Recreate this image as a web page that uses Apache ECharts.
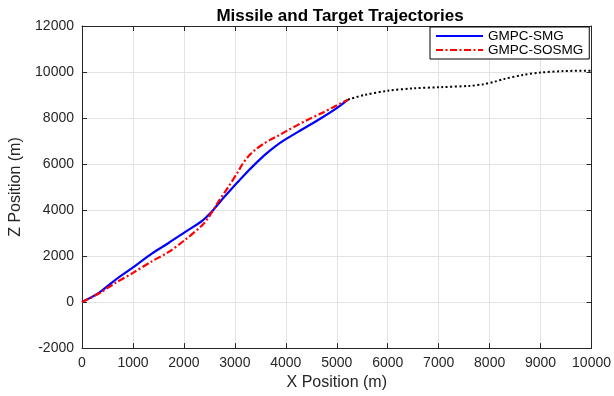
<!DOCTYPE html>
<html>
<head>
<meta charset="utf-8">
<script src="https://cdn.jsdelivr.net/npm/echarts@6/dist/echarts.min.js"></script>
<style>
  html, body { margin: 0; padding: 0; background: #fff; }
  #chart { width: 614px; height: 396px; }
</style>
</head>
<body>
<div id="chart"></div>
<script>
// Trajectory samples (metres)
const smgX = [0, 330, 656, 1000, 1370, 1700, 2020, 2350, 2545, 2740, 3000, 3200, 3426, 3600, 3800, 4000, 4300, 4690, 5000, 5220];
const smgZ = [0, 400, 970, 1510, 2110, 2570, 3040, 3520, 3930, 4440, 5080, 5560, 6060, 6420, 6780, 7080, 7480, 7990, 8430, 8800];

const sosmgX = [0, 330, 656, 1000, 1370, 1700, 2020, 2350, 2470, 2577, 2675, 2870, 3066, 3145, 3262, 3400, 3550, 3700, 3850, 4000, 4200, 4400, 4700, 4950, 5220];
const sosmgZ = [0, 370, 834, 1270, 1770, 2180, 2700, 3320, 3640, 4000, 4360, 5000, 5680, 5980, 6330, 6620, 6860, 7060, 7230, 7420, 7660, 7890, 8210, 8490, 8800];

const targetX = [5220, 5540, 6000, 6500, 7040, 7620, 7880, 8100, 8270, 8660, 8990, 9450, 10000];
const targetZ = [8800, 9000, 9185, 9290, 9340, 9400, 9470, 9580, 9690, 9875, 9975, 10040, 10060];

const xTicks = { min: 0, max: 10000, step: 1000 };
const zTicks = { min: -2000, max: 12000, step: 2000 };

const pairs = (xs, zs) => xs.map((x, i) => [x, zs[i]]);

const FONT = '"Liberation Sans", Arial, sans-serif';
const AXIS_COLOR = '#262626';

const chart = echarts.init(document.getElementById('chart'), null, { renderer: 'canvas' });

// Unlabelled axes closing the plot box on the top and right sides
const boxAxis = (extra) => Object.assign({
  type: 'value',
  axisLine: { show: true, onZero: false, lineStyle: { color: AXIS_COLOR, width: 1 } },
  axisTick: { show: true, inside: true, length: 5, lineStyle: { color: AXIS_COLOR } },
  axisLabel: { show: false },
  splitLine: { show: false }
}, extra);

const plain = (v) => String(v);

chart.setOption({
  animation: false,
  backgroundColor: '#fff',
  title: {
    text: 'Missile and Target Trajectories',
    left: 335,
    textAlign: 'center',
    top: 3,
    textStyle: { fontFamily: FONT, fontSize: 17, fontWeight: 'bold', color: '#000' }
  },
  legend: {
    data: ['GMPC-SMG', 'GMPC-SOSMG'],
    orient: 'vertical',
    left: 430,
    top: 27,
    padding: [2, 6, 2, 5],
    itemGap: 0,
    itemWidth: 47,
    itemHeight: 14,
    backgroundColor: '#fff',
    borderColor: '#000',
    borderWidth: 1,
    borderRadius: 0,
    itemStyle: { opacity: 0 },
    textStyle: { fontFamily: FONT, fontSize: 13.5, color: '#000' }
  },
  grid: { left: 80, right: 22, top: 26, bottom: 45, containLabel: false },
  xAxis: [
    {
      type: 'value',
      min: xTicks.min, max: xTicks.max, interval: xTicks.step,
      name: 'X Position (m)',
      nameLocation: 'middle',
      nameGap: 24,
      nameTextStyle: { fontFamily: FONT, fontSize: 16, color: AXIS_COLOR },
      axisLine: { show: true, onZero: false, lineStyle: { color: AXIS_COLOR, width: 1 } },
      axisTick: { show: true, inside: true, length: 5, lineStyle: { color: AXIS_COLOR } },
      axisLabel: { fontFamily: FONT, fontSize: 14, color: AXIS_COLOR, margin: 8, formatter: plain },
      splitLine: { show: true, lineStyle: { color: '#e3e3e3', width: 1 } }
    },
    boxAxis({ position: 'top', min: xTicks.min, max: xTicks.max, interval: xTicks.step })
  ],
  yAxis: [
    {
      type: 'value',
      min: zTicks.min, max: zTicks.max, interval: zTicks.step,
      name: 'Z Position (m)',
      nameLocation: 'middle',
      nameGap: 58,
      nameTextStyle: { fontFamily: FONT, fontSize: 16, color: AXIS_COLOR },
      axisLine: { show: true, onZero: false, lineStyle: { color: AXIS_COLOR, width: 1 } },
      axisTick: { show: true, inside: true, length: 5, lineStyle: { color: AXIS_COLOR } },
      axisLabel: { fontFamily: FONT, fontSize: 14, color: AXIS_COLOR, margin: 8, formatter: plain },
      splitLine: { show: true, lineStyle: { color: '#e3e3e3', width: 1 } }
    },
    boxAxis({ position: 'right', min: zTicks.min, max: zTicks.max, interval: zTicks.step })
  ],
  series: [
    {
      name: 'GMPC-SMG',
      type: 'line',
      data: pairs(smgX, smgZ),
      symbol: 'none',
      smooth: 0.3,
      lineStyle: { color: '#0000ff', width: 2.2 },
      itemStyle: { color: '#0000ff' }
    },
    {
      name: 'GMPC-SOSMG',
      type: 'line',
      data: pairs(sosmgX, sosmgZ),
      symbol: 'none',
      smooth: 0.3,
      lineStyle: { color: '#ff0000', width: 2.2, type: [7, 2.5, 2, 2.5] },
      itemStyle: { color: '#ff0000' }
    },
    {
      name: 'Target',
      type: 'line',
      data: pairs(targetX, targetZ),
      symbol: 'none',
      smooth: 0.3,
      lineStyle: { color: '#000000', width: 2, type: [2, 2.5] },
      itemStyle: { color: '#000000' }
    }
  ]
});
</script>
</body>
</html>
